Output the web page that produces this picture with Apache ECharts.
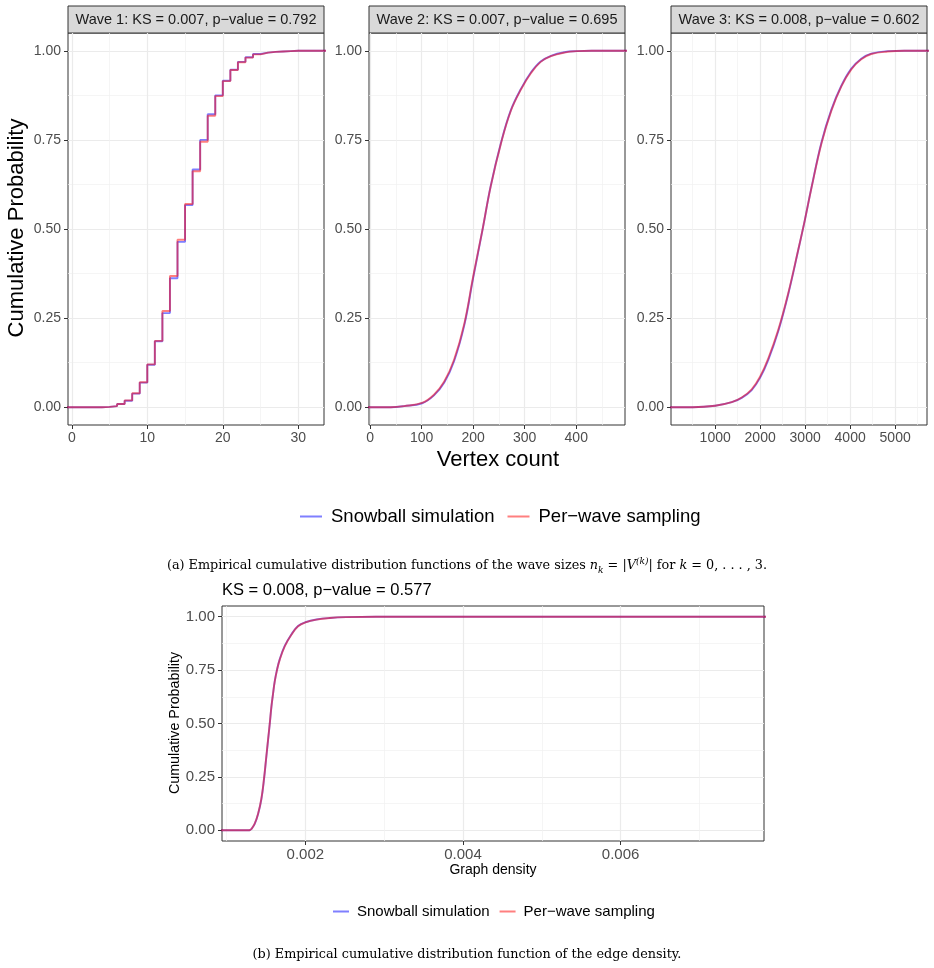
<!DOCTYPE html>
<html>
<head>
<meta charset="utf-8">
<script src="https://cdn.jsdelivr.net/npm/echarts@6/dist/echarts.min.js"></script>
<style>
  html, body { margin: 0; padding: 0; background: #fff; }
  #main { width: 934px; height: 968px; }
</style>
</head>
<body>
<div id="main"></div>
<script>
// wave 1: step ECDF over integer vertex counts
var wave1X        = [-1, 0, 1, 2, 3, 4, 5, 6, 7, 8, 9, 10, 11, 12, 13, 14, 15, 16, 17, 18, 19, 20, 21, 22, 23, 24, 25, 26, 27, 28, 29, 30, 31, 32, 40];
var wave1Snowball = [0, 0, 0, 0, 0, 0.001, 0.003, 0.009, 0.018, 0.038, 0.069, 0.119, 0.185, 0.264, 0.362, 0.464, 0.567, 0.667, 0.750, 0.822, 0.875, 0.916, 0.947, 0.969, 0.982, 0.991, 0.995, 0.997, 0.998, 0.999, 1, 1, 1, 1, 1];
var wave1PerWave  = [0, 0, 0, 0, 0, 0.001, 0.003, 0.009, 0.019, 0.039, 0.070, 0.120, 0.186, 0.270, 0.368, 0.470, 0.570, 0.662, 0.745, 0.818, 0.873, 0.915, 0.946, 0.968, 0.981, 0.990, 0.995, 0.997, 0.998, 0.999, 1, 1, 1, 1, 1];

// wave 2
var wave2X        = [-5, 40, 66, 101, 124, 144, 163, 183, 200, 218, 234, 254, 273, 293, 312, 331, 351, 377, 401, 430, 500];
var wave2Snowball = [0, 0, 0.003, 0.011, 0.033, 0.069, 0.129, 0.231, 0.362, 0.496, 0.620, 0.742, 0.833, 0.894, 0.939, 0.970, 0.986, 0.996, 0.999, 1, 1];
var wave2PerWave  = [0, 0, 0.003, 0.012, 0.035, 0.072, 0.133, 0.235, 0.366, 0.497, 0.619, 0.740, 0.831, 0.892, 0.937, 0.969, 0.985, 0.995, 0.999, 1, 1];

// wave 3
var wave3X        = [0, 500, 1000, 1369, 1590, 1812, 2000, 2181, 2402, 2624, 2845, 2993, 3140, 3362, 3583, 3804, 4026, 4247, 4469, 4838, 5207, 5800];
var wave3Snowball = [0, 0, 0.004, 0.014, 0.026, 0.048, 0.083, 0.133, 0.213, 0.317, 0.440, 0.525, 0.616, 0.743, 0.835, 0.902, 0.950, 0.978, 0.992, 0.999, 1, 1];
var wave3PerWave  = [0, 0, 0.004, 0.014, 0.027, 0.050, 0.086, 0.137, 0.217, 0.320, 0.441, 0.525, 0.615, 0.740, 0.832, 0.900, 0.948, 0.976, 0.991, 0.998, 1, 1];

// graph density
var densityX        = [0.0008, 0.00128, 0.00130, 0.001315, 0.001357, 0.00140, 0.001442, 0.001476, 0.00150, 0.001526, 0.001548, 0.001569, 0.00159, 0.001611, 0.00164, 0.001674, 0.001738, 0.001822, 0.001907, 0.0020, 0.00214, 0.00231, 0.00252, 0.0029, 0.0079];
var densitySnowball = [0, 0, 0.002, 0.006, 0.030, 0.076, 0.146, 0.242, 0.327, 0.420, 0.498, 0.578, 0.640, 0.697, 0.752, 0.800, 0.863, 0.917, 0.956, 0.974, 0.987, 0.994, 0.998, 1, 1];
var densityPerWave  = [0, 0, 0.002, 0.006, 0.031, 0.078, 0.149, 0.245, 0.330, 0.423, 0.500, 0.579, 0.640, 0.696, 0.750, 0.798, 0.861, 0.915, 0.955, 0.973, 0.986, 0.994, 0.998, 1, 1];

var probTicks = [0, 0.25, 0.5, 0.75, 1];
var probMinor = [0.125, 0.375, 0.625, 0.875];

var stripTitles = [
    'Wave 1: KS = 0.007, p\u2212value = 0.792',
    'Wave 2: KS = 0.007, p\u2212value = 0.695',
    'Wave 3: KS = 0.008, p\u2212value = 0.602'
];
var densityTitle = 'KS = 0.008, p\u2212value = 0.577';
var seriesNames = ['Snowball simulation', 'Per\u2212wave sampling'];

var blue = 'rgba(0,0,255,0.5)';
var red = 'rgba(255,0,0,0.5)';
var FONT = '"Liberation Sans", Arial, sans-serif';
var SERIF = '"DejaVu Serif", serif';

function pairs(xs, ys) {
    return xs.map(function (x, i) { return [x, ys[i]]; });
}

var myChart = echarts.init(document.getElementById('main'), null, {renderer: 'canvas'});

// panel boxes
var panels = [
    {left: 68,  top: 33,  width: 256, height: 392, xMin: -0.5,    xMax: 33.4,   xTicks: [0, 10, 20, 30], xMinor: [5, 15, 25], fmt: 0, labelSize: 14, x: wave1X, a: wave1Snowball, b: wave1PerWave, step: true},
    {left: 369, top: 33,  width: 256, height: 392, xMin: -2,      xMax: 494.6,  xTicks: [0, 100, 200, 300, 400], xMinor: [50, 150, 250, 350, 450], fmt: 0, labelSize: 14, x: wave2X, a: wave2Snowball, b: wave2PerWave},
    {left: 671, top: 33,  width: 256, height: 392, xMin: 18.5,    xMax: 5708,   xTicks: [1000, 2000, 3000, 4000, 5000], xMinor: [500, 1500, 2500, 3500, 4500, 5500], fmt: 0, labelSize: 14, x: wave3X, a: wave3Snowball, b: wave3PerWave},
    {left: 222, top: 606, width: 542, height: 235, xMin: 0.000942, xMax: 0.00782, xTicks: [0.002, 0.004, 0.006], xMinor: [0.001, 0.003, 0.005, 0.007], fmt: 3, labelSize: 15, x: densityX, a: densitySnowball, b: densityPerWave}
];

var grids = [], xAxes = [], yAxes = [], series = [];
panels.forEach(function (p, i) {
    grids.push({
        left: p.left, top: p.top, width: p.width, height: p.height,
        show: true, borderColor: '#333333', borderWidth: 1, backgroundColor: '#ffffff'
    });
    // major axis
    xAxes.push({
        type: 'value', gridIndex: i, min: p.xMin, max: p.xMax, position: 'bottom',
        axisLine: {show: false, onZero: false},
        axisTick: {show: true, length: 4, customValues: p.xTicks, lineStyle: {color: '#333333'}},
        axisLabel: {customValues: p.xTicks, color: '#4d4d4d', fontSize: p.labelSize, fontFamily: FONT, margin: 6,
            formatter: function (v) { return p.fmt ? v.toFixed(p.fmt) : String(v); }},
        splitLine: {show: true, lineStyle: {color: '#ebebeb', width: 1.2}}
    });
    // minor grid lines only
    xAxes.push({
        type: 'value', gridIndex: i, min: p.xMin, max: p.xMax, position: 'bottom',
        axisLine: {show: false, onZero: false},
        axisTick: {show: false, customValues: p.xMinor},
        axisLabel: {show: false},
        splitLine: {show: true, lineStyle: {color: '#f0f0f0', width: 0.7}}
    });
    yAxes.push({
        type: 'value', gridIndex: i, min: -0.05, max: 1.05, position: 'left',
        axisLine: {show: false, onZero: false},
        axisTick: {show: true, length: 4, customValues: probTicks, lineStyle: {color: '#333333'}},
        axisLabel: {customValues: probTicks, color: '#4d4d4d', fontSize: p.labelSize, fontFamily: FONT, margin: 7,
            formatter: function (v) { return v.toFixed(2); }},
        splitLine: {show: true, lineStyle: {color: '#ebebeb', width: 1.2}}
    });
    yAxes.push({
        type: 'value', gridIndex: i, min: -0.05, max: 1.05, position: 'left',
        axisLine: {show: false, onZero: false},
        axisTick: {show: false, customValues: probMinor},
        axisLabel: {show: false},
        splitLine: {show: true, lineStyle: {color: '#f0f0f0', width: 0.7}}
    });
    [[p.a, blue, seriesNames[0]], [p.b, red, seriesNames[1]]].forEach(function (s) {
        series.push({
            name: s[2], type: 'line', xAxisIndex: 2 * i, yAxisIndex: 2 * i,
            data: pairs(p.x, s[0]),
            showSymbol: false, symbol: 'none',
            step: p.step ? 'end' : false,
            smooth: p.step ? false : 0.4,
            itemStyle: {color: s[1]},
            lineStyle: {color: s[1], width: 1.9},
            emphasis: {disabled: true}
        });
    });
});

var graphics = [];
panels.slice(0, 3).forEach(function (p, i) {
    graphics.push({
        type: 'rect', shape: {x: p.left, y: 6, width: p.width, height: 27},
        style: {fill: '#d9d9d9', stroke: '#333333', lineWidth: 1}
    });
    graphics.push({
        type: 'text', x: p.left + p.width / 2, y: 20,
        style: {text: stripTitles[i], fill: '#1a1a1a', font: '14.5px ' + FONT, textAlign: 'center', textVerticalAlign: 'middle'}
    });
});
graphics.push(
    {type: 'text', x: 17, y: 228, rotation: Math.PI / 2,
        style: {text: 'Cumulative Probability', fill: '#000', font: '22px ' + FONT, textAlign: 'center', textVerticalAlign: 'middle'}},
    {type: 'text', x: 498, y: 460,
        style: {text: 'Vertex count', fill: '#000', font: '22px ' + FONT, textAlign: 'center', textVerticalAlign: 'middle'}},
    {type: 'text', x: 467, y: 566,
        style: {
            text: '(a) Empirical cumulative distribution functions of the wave sizes {i|n}{sub|k} = |{i|V}{sup|(k)}| for {i|k} = 0, . . . , 3.',
            fill: '#000', font: '12.8px ' + SERIF, textAlign: 'center', textVerticalAlign: 'middle',
            rich: {
                i: {fontStyle: 'italic', fontSize: 12.8, fontFamily: SERIF},
                sub: {fontStyle: 'italic', fontSize: 9, fontFamily: SERIF, verticalAlign: 'bottom', lineHeight: 18},
                sup: {fontStyle: 'italic', fontSize: 9, fontFamily: SERIF, verticalAlign: 'top', lineHeight: 18}
            }
        }},
    {type: 'text', x: 222, y: 590,
        style: {text: densityTitle, fill: '#000', font: '16.5px ' + FONT, textAlign: 'left', textVerticalAlign: 'middle'}},
    {type: 'text', x: 175, y: 723, rotation: Math.PI / 2,
        style: {text: 'Cumulative Probability', fill: '#000', font: '14.3px ' + FONT, textAlign: 'center', textVerticalAlign: 'middle'}},
    {type: 'text', x: 493, y: 870,
        style: {text: 'Graph density', fill: '#000', font: '14px ' + FONT, textAlign: 'center', textVerticalAlign: 'middle'}},
    {type: 'text', x: 467, y: 955,
        style: {text: '(b) Empirical cumulative distribution function of the edge density.',
            fill: '#000', font: '12.8px ' + SERIF, textAlign: 'center', textVerticalAlign: 'middle'}}
);

var option = {
    animation: false,
    backgroundColor: '#ffffff',
    legend: [
        {
            data: seriesNames, left: 295, top: 502, icon: 'rect',
            itemWidth: 22, itemHeight: 2, itemGap: 13,
            textStyle: {fontSize: 18.5, fontFamily: FONT, color: '#000', padding: [0, 0, 0, 4]},
            selectedMode: false
        },
        {
            data: seriesNames, left: 328, top: 899, icon: 'rect',
            itemWidth: 16, itemHeight: 2, itemGap: 10,
            textStyle: {fontSize: 15, fontFamily: FONT, color: '#000', padding: [0, 0, 0, 3]},
            selectedMode: false
        }
    ],
    grid: grids,
    xAxis: xAxes,
    yAxis: yAxes,
    series: series,
    graphic: graphics
};
myChart.setOption(option);
</script>
</body>
</html>
